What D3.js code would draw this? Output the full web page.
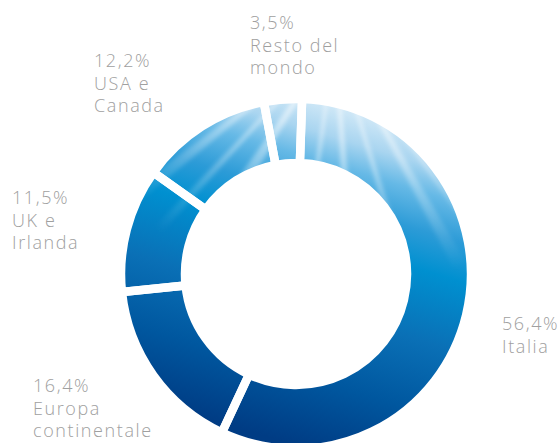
<!DOCTYPE html>
<html lang="it">
<head>
<meta charset="UTF-8">
<title>Ricavi per area geografica</title>
<script src="https://d3js.org/d3.v7.min.js"></script>
<style>
    body { margin: 0; background: #fff; }
    svg { display: block; }
    .lbl { font-family: "Open Sans", "DejaVu Sans", sans-serif; font-size: 18px; font-weight: 300; fill: #a0a0a0; letter-spacing: 1.6px; }
</style>
</head>
<body>
<div id="chart"></div>
<script>
// data
const areas = ["Italia", "Europa continentale", "UK e Irlanda", "USA e Canada", "Resto del mondo"];
const shares = [56.4, 16.4, 11.5, 12.2, 3.5];
const shareText = ["56,4%", "16,4%", "11,5%", "12,2%", "3,5%"];
const nameLines = [["Italia"], ["Europa", "continentale"], ["UK e", "Irlanda"], ["USA e", "Canada"], ["Resto del", "mondo"]];

// layout
const width = 560, height = 443;
const cx = 296, cy = 274;
const outerR = 175, innerR = 111;
const startDeg = 2;
const lineH = 22.5;
// where each label block starts (x of left edge, baseline of first line)
const labelAt = [[502, 330], [33, 392], [12, 204], [94, 67], [250, 29]];

const svg = d3.select("#chart").append("svg")
    .attr("width", width)
    .attr("height", height);

const defs = svg.append("defs");

// gradient in the ring's own (centred) coordinates
const grad = defs.append("linearGradient")
    .attr("id", "ringGrad")
    .attr("gradientUnits", "userSpaceOnUse")
    .attr("x1", 34).attr("y1", -174)
    .attr("x2", -64).attr("y2", 152);
[
    [0, "#d6ebf8"], [0.1, "#a9d5f0"], [0.18, "#66b9e6"], [0.29, "#2c9bd7"],
    [0.4, "#0090d0"], [0.6, "#0a70b6"], [0.8, "#00579f"], [1, "#003c84"]
].forEach(s => grad.append("stop").attr("offset", s[0]).attr("stop-color", s[1]));

const rayGrad = defs.append("radialGradient")
    .attr("id", "rayGrad")
    .attr("gradientUnits", "userSpaceOnUse")
    .attr("cx", 335).attr("cy", 40).attr("r", 260);
rayGrad.append("stop").attr("offset", 0).attr("stop-color", "#fff").attr("stop-opacity", 0.75);
rayGrad.append("stop").attr("offset", 0.55).attr("stop-color", "#fff").attr("stop-opacity", 0.35);
rayGrad.append("stop").attr("offset", 1).attr("stop-color", "#fff").attr("stop-opacity", 0);

defs.append("filter").attr("id", "soft")
    .append("feGaussianBlur").attr("stdDeviation", 2.2);

const arc = d3.arc().innerRadius(innerR).outerRadius(outerR);

defs.append("clipPath").attr("id", "ringClip")
    .append("path")
    .attr("transform", `translate(${cx},${cy})`)
    .attr("d", arc({ startAngle: 0, endAngle: 2 * Math.PI }));

const pie = d3.pie()
    .sort(null)
    .value(d => d)
    .startAngle(startDeg * Math.PI / 180)
    .endAngle(startDeg * Math.PI / 180 + 2 * Math.PI);

const arcs = pie(shares);

const g = svg.append("g").attr("transform", `translate(${cx},${cy})`);

g.selectAll("path.slice")
    .data(arcs)
    .enter().append("path")
    .attr("class", "slice")
    .attr("d", arc)
    .attr("fill", "url(#ringGrad)");

// light rays over the ring
const rays = [[-52, 3], [-43, 2], [-33, 4], [-8, 2], [4, 3], [17, 2], [29, 3], [36, 2]];
const rayLen = 420;
const ox = 335, oy = 40;
const rayG = svg.append("g")
    .attr("clip-path", "url(#ringClip)")
    .append("g")
    .attr("filter", "url(#soft)");
rayG.selectAll("path")
    .data(rays)
    .enter().append("path")
    .attr("fill", "url(#rayGrad)")
    .attr("d", d => {
        const a0 = (d[0] - d[1] / 2) * Math.PI / 180;
        const a1 = (d[0] + d[1] / 2) * Math.PI / 180;
        return d3.line()([
            [ox, oy],
            [ox + rayLen * Math.sin(a0), oy + rayLen * Math.cos(a0)],
            [ox + rayLen * Math.sin(a1), oy + rayLen * Math.cos(a1)]
        ]) + "Z";
    });

// white gaps between slices
g.selectAll("path.gap")
    .data(arcs)
    .enter().append("path")
    .attr("class", "gap")
    .attr("d", arc)
    .attr("fill", "none")
    .attr("stroke", "#fff")
    .attr("stroke-width", 8.5)
    .attr("stroke-linejoin", "miter");

// labels
const labels = svg.selectAll("text.lbl")
    .data(areas)
    .enter().append("text")
    .attr("class", "lbl")
    .attr("x", (d, i) => labelAt[i][0])
    .attr("y", (d, i) => labelAt[i][1]);

labels.each(function (d, i) {
    const t = d3.select(this);
    [shareText[i]].concat(nameLines[i]).forEach((line, k) => {
        t.append("tspan")
            .attr("x", labelAt[i][0])
            .attr("dy", k === 0 ? 0 : lineH)
            .text(line);
    });
});
</script>
</body>
</html>
